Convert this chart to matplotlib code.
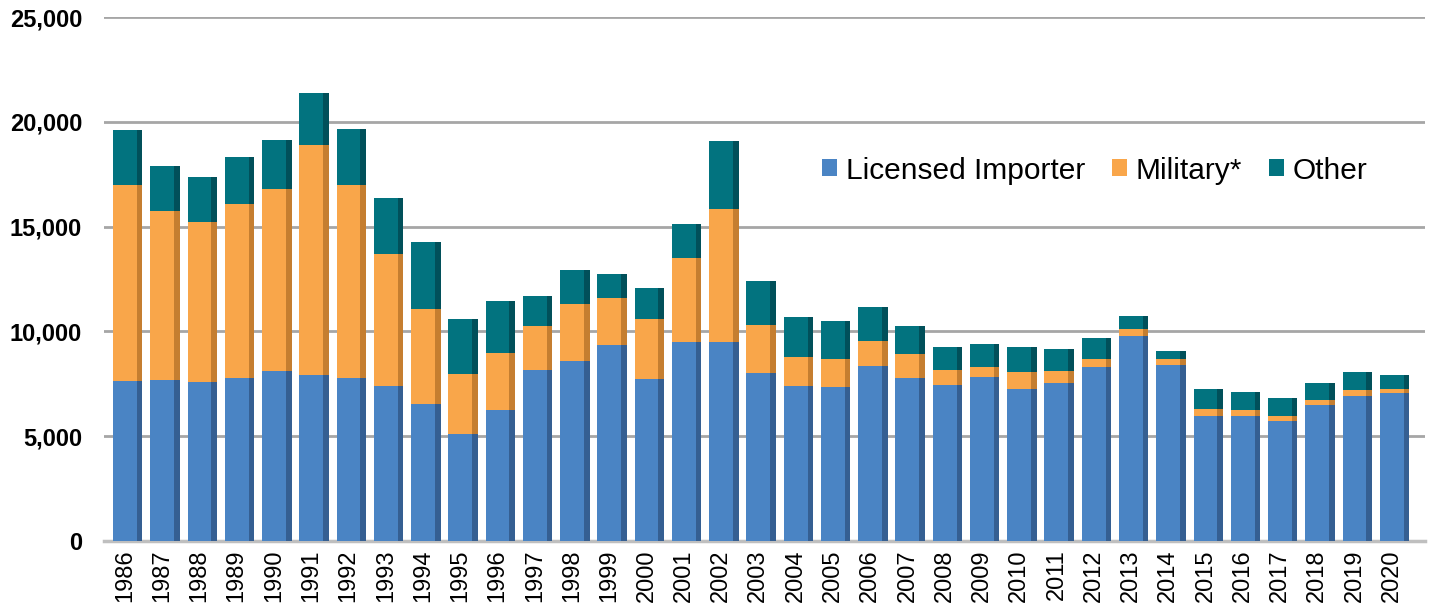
import numpy as np
import matplotlib.pyplot as plt

plt.rcParams.update({
    "font.family": ["Liberation Sans", "DejaVu Sans"],
    "font.size": 15})

years = [str(y) for y in range(1986, 2021)]
yticks = [0, 5000, 10000, 15000, 20000, 25000]

# values (approx.)
licensed = [7620, 7680, 7570, 7760, 8110, 7920, 7760, 7410, 6540, 5110,
            6220, 8130, 8600, 9350, 7700, 9480, 9480, 8020, 7370, 7330,
            8330, 7760, 7430, 7810, 7250, 7540, 8290, 9790, 8400, 5950,
            5980, 5700, 6460, 6900, 7060]
military = [9380, 8070, 7650, 8340, 8700, 10970, 9240, 6300, 4520, 2860,
            2750, 2140, 2700, 2240, 2890, 4000, 6350, 2280, 1390, 1350,
            1230, 1160, 720, 480, 800, 560, 390, 320, 280, 320,
            240, 280, 240, 310, 190]
other = [2630, 2140, 2150, 2230, 2320, 2490, 2670, 2670, 3180, 2620,
         2490, 1430, 1640, 1140, 1460, 1630, 3250, 2110, 1910, 1830,
         1580, 1320, 1110, 1110, 1190, 1060, 990, 640, 400, 980,
         880, 830, 840, 840, 640]

colors = ["#4A84C4", "#F9A64A", "#02737F"]
sides = ["#355F92", "#C57E30", "#01505A"]
labels = ["Licensed Importer", "Military*", "Other"]


def plot(plot_file):
    fig = plt.figure(figsize=(14.31, 6.09), dpi=100)
    ax = fig.add_axes([0.073, 0.112, 0.923, 0.86])

    x = np.arange(len(years))
    w = 0.64
    bottom = np.zeros(len(years))
    for vals, c, sc, lab in zip([licensed, military, other], colors, sides, labels):
        vals = np.array(vals)
        ax.bar(x, vals, w, bottom=bottom, color=c, label=lab, zorder=3)
        # darker side face for the 3-D look
        ax.bar(x + w / 2 + 0.075, vals, 0.15, bottom=bottom, color=sc, zorder=3)
        bottom += vals

    ax.set_xlim(-0.55, 34.9)
    ax.set_ylim(0, 25000)
    ax.set_yticks(yticks)
    ax.set_yticklabels([f"{v:,}" for v in yticks], fontweight="bold", fontsize=17)
    ax.set_xticks(x)
    ax.set_xticklabels(years, rotation=90, fontsize=17)
    ax.tick_params(axis="y", length=0, pad=16)
    ax.tick_params(axis="x", length=0, pad=6)

    ax.yaxis.grid(True, color="#A6A6A6", linewidth=2, zorder=0)
    for s in ["top", "right", "left"]:
        ax.spines[s].set_visible(False)
    ax.spines["bottom"].set_color("#BFBFBF")
    ax.spines["bottom"].set_linewidth(2.5)

    h, l = ax.get_legend_handles_labels()
    fig.legend(h, l, ncol=3, loc="center", frameon=False, fontsize=21.5,
               bbox_to_anchor=(0.765, 0.72), handlelength=0.5, handleheight=0.5,
               handletextpad=0.3, columnspacing=0.9)

    fig.savefig(plot_file, dpi=100)
    plt.close(fig)


plot("out.png")
